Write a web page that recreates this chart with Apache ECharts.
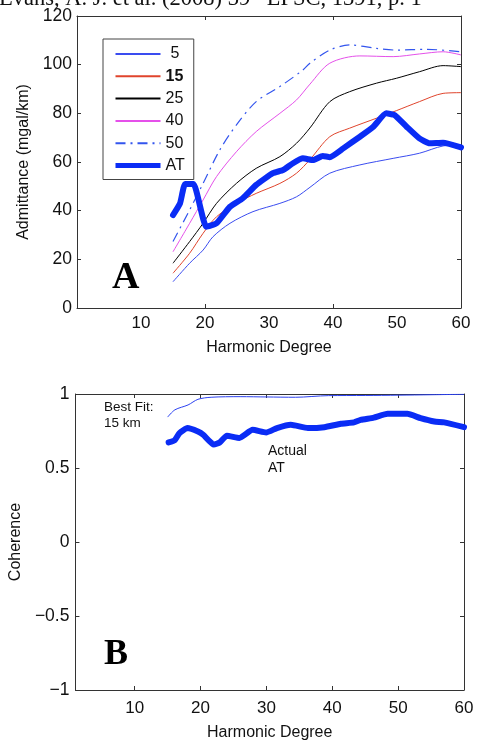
<!DOCTYPE html>
<html><head><meta charset="utf-8">
<script src="https://cdn.jsdelivr.net/npm/echarts@6/dist/echarts.min.js"></script>
<style>html,body{margin:0;padding:0;background:#fff}#c{width:477px;height:742px}</style>
</head><body><div id="c"></div>
<script>
// ---- Panel A: admittance (mgal/km) vs harmonic degree ----
const deg5  = [15,17.6,19.7,21.25,23.9,27.5,31.7,34.3,36.4,39.5,44.2,49.4,53.5,57.2,60];
const val5  = [10.8,18.4,23.8,29.3,34.8,39.6,43,45.7,49.6,55.4,58.8,61.5,63.6,66.6,67];
const deg15 = [15,17.6,19.7,21.8,24.9,28,31.7,34.3,36.4,39.5,42.6,46.8,49.9,53.5,57.2,60];
const val15 = [14.3,22.5,30.7,37.5,43,47.1,51.2,55.4,61,70.4,73.9,78,81.1,84.8,88.2,88.5];
const deg25 = [15,17.6,19.7,21.8,24.9,28,31.7,34.3,36.4,39.5,42.6,46.8,49.9,53.5,57.2,60];
const val25 = [18.4,27.3,34.8,43,51.2,57.4,62.2,67.7,74,84.8,88.9,92.4,94.4,97.1,99.6,99.2];
const deg40 = [15,17.6,19.7,21.8,24.9,28,31.7,34.3,36.4,39.5,44.2,49.4,53.5,57.2,60];
const val40 = [23.1,34.8,44.4,54,64.2,72.5,80,85.5,92,100.6,103.6,103.3,104.4,105.3,104];
const deg50 = [15,17.6,19.7,22.3,24.9,28,31.7,35.3,36.4,39.5,42.6,46.8,49.9,54.6,60];
const val50 = [27.3,40.3,51.2,64.9,75.2,84.8,91,97.8,100.6,106,108.1,106.7,106,106.3,105.3];
const degAT = [15,16.1,16.9,18.2,20.2,21.8,23.9,25.9,28,30.6,32.2,33.75,35.3,36.9,38.4,39.5,41.6,44.2,46.3,48.3,49.6,51.5,53.5,55.1,57.2,60];
const valAT = [38.2,43,51,51,33.4,34.8,41.6,45.1,50.6,55.4,56.7,59.5,61.5,60.8,62.5,62,65.6,70.4,74.5,80,79.3,74.5,69.7,67.7,67.9,66];

// ---- Panel B: coherence vs harmonic degree ----
const degFit = [15,16.1,18.1,19.6,21.6,26,30,34.4,39.4,45,50,55,60];
const valFit = [0.844,0.893,0.926,0.964,0.978,0.982,0.98,0.978,0.989,0.99,0.992,0.995,0.998];
const degCoh = [15.15,16.06,16.8,18,19.6,20.4,22,22.9,24,25.9,27.9,29.95,31.6,33.7,36.3,38.8,41.3,43.3,44.3,46.3,48.4,51.4,53.4,55.5,57,60];
const valCoh = [0.673,0.687,0.736,0.77,0.747,0.725,0.658,0.673,0.718,0.703,0.758,0.74,0.77,0.792,0.77,0.776,0.799,0.808,0.825,0.84,0.866,0.866,0.837,0.814,0.808,0.776];

const xLabelsA = [10,20,30,40,50,60];
const xTicksA  = [20,40];
const yTicksA  = [20,40,60,80,100];
const xLabelsB = [10,20,30,40,50,60];
const xTicksB  = [10,20,30,40,50];
const yTicksB  = [-0.5,0,0.5];

const legendNames = ['5','15','25','40','50','AT'];
const pairs = (xs, ys) => xs.map((x, i) => [x, ys[i]]);

const FONT = 'Liberation Sans, Arial, Helvetica, sans-serif';
const axisTextColor = '#111';
const lineCol = '#333';

function boxAxis(type, gridIndex, pos, min, max, ticks, extra) {
  return Object.assign({
    type: 'value', gridIndex, position: pos, min, max,
    axisLine: {show: true, onZero: false, lineStyle: {color: lineCol, width: 1}},
    axisTick: {show: true, inside: true, length: 4, customValues: ticks, lineStyle: {color: lineCol}},
    axisLabel: {show: false},
    splitLine: {show: false}
  }, extra || {});
}

const chart = echarts.init(document.getElementById('c'), null, {renderer: 'canvas'});
const option = {
  animation: false,
  backgroundColor: '#fff',
  textStyle: {fontFamily: FONT},
  grid: [
    {left: 77, top: 16, width: 384, height: 292},
    {left: 73, top: 394, width: 391, height: 298}
  ],
  xAxis: [
    boxAxis('x', 0, 'bottom', 0, 60, xTicksA, {
      interval: 10,
      name: 'Harmonic Degree', nameLocation: 'middle', nameGap: 32,
      nameTextStyle: {fontSize: 16, color: axisTextColor, fontFamily: FONT, verticalAlign: 'top'},
      axisLabel: {show: true, customValues: xLabelsA, fontSize: 17, color: axisTextColor, margin: 7, fontFamily: FONT}
    }),
    boxAxis('x', 0, 'top', 0, 60, xTicksA, {interval: 10}),
    boxAxis('x', 1, 'bottom', 1, 60, xTicksB, {
      name: 'Harmonic Degree', nameLocation: 'middle', nameGap: 35,
      nameTextStyle: {fontSize: 16, color: axisTextColor, fontFamily: FONT, verticalAlign: 'top'},
      axisLabel: {show: true, customValues: xLabelsB, fontSize: 17, color: axisTextColor, margin: 10, fontFamily: FONT}
    }),
    boxAxis('x', 1, 'top', 1, 60, xTicksB)
  ],
  yAxis: [
    boxAxis('y', 0, 'left', 0, 120, yTicksA, {
      interval: 20,
      name: 'Admittance (mgal/km)', nameLocation: 'middle', nameGap: 38,
      nameTextStyle: {fontSize: 16, color: axisTextColor, fontFamily: FONT},
      axisLabel: {show: true, fontSize: 17.5, color: axisTextColor, margin: 5, fontFamily: FONT}
    }),
    boxAxis('y', 0, 'right', 0, 120, yTicksA, {interval: 20}),
    boxAxis('y', 1, 'left', -1, 1, yTicksB, {
      interval: 0.5,
      name: 'Coherence', nameLocation: 'middle', nameGap: 33,
      nameTextStyle: {fontSize: 16, color: axisTextColor, fontFamily: FONT},
      axisLabel: {show: true, fontSize: 17.5, color: axisTextColor, margin: 6, fontFamily: FONT,
        formatter: v => (v < 0 ? '\u2212' + Math.abs(v) : String(v))}
    }),
    boxAxis('y', 1, 'right', -1, 1, yTicksB, {interval: 0.5})
  ],
  legend: {
    data: legendNames.map(n => n === 'AT' ? {name: n, lineStyle: {width: 5, cap: 'butt'}} : {name: n}),
    orient: 'vertical',
    left: 103, top: 39,
    backgroundColor: '#fff',
    borderColor: '#444', borderWidth: 1, borderRadius: 0,
    padding: [7, 9, 6, 10],
    itemWidth: 45, itemHeight: 13, itemGap: 6.3,
    itemStyle: {opacity: 0},
    selectedMode: false,
    formatter: n => n === '15' ? '{b|15}' : (n === '5' ? '{p|5}' : n),
    textStyle: {fontSize: 16, color: '#111', fontFamily: FONT,
      rich: {b: {fontWeight: 'bold', fontSize: 16, fontFamily: FONT},
             p: {fontSize: 16, padding: [0, 0, 0, 5], fontFamily: FONT}}}
  },
  graphic: [
    {type: 'text', left: -1, top: -13, silent: true,
      style: {text: '{n|Evans, A. J. et al. (2008) 39}{s|th}{n| LPSC, 1391, p. 1}',
        rich: {n: {fontFamily: 'Liberation Serif, Times New Roman, serif', fontSize: 22.5, fill: '#111'},
               s: {fontFamily: 'Liberation Serif, Times New Roman, serif', fontSize: 14, fill: '#111', verticalAlign: 'top', padding: [0,0,10,0]}}}},
    {type: 'text', x: 112, y: 259, silent: true,
      style: {text: 'A', font: 'bold 38px Liberation Serif, Times New Roman, serif', fill: '#000'}},
    {type: 'text', x: 104, y: 637, silent: true,
      style: {text: 'B', font: 'bold 36px Liberation Serif, Times New Roman, serif', fill: '#000'}},
    {type: 'text', x: 104, y: 399, silent: true,
      style: {text: 'Best Fit:\n15 km', font: '13.5px Liberation Sans, Arial, sans-serif', fill: '#111', lineHeight: 16}},
    {type: 'text', x: 268, y: 443, silent: true,
      style: {text: 'Actual\nAT', font: '14px Liberation Sans, Arial, sans-serif', fill: '#111', lineHeight: 17}}
  ],
  series: [
    {name: '5', type: 'line', xAxisIndex: 0, yAxisIndex: 0, data: pairs(deg5, val5), symbol: 'none', smooth: 0.3,
      lineStyle: {color: '#3a4cf0', width: 1}, itemStyle: {color: '#3a4cf0'}},
    {name: '15', type: 'line', xAxisIndex: 0, yAxisIndex: 0, data: pairs(deg15, val15), symbol: 'none', smooth: 0.3,
      lineStyle: {color: '#e0442c', width: 1}, itemStyle: {color: '#e0442c'}},
    {name: '25', type: 'line', xAxisIndex: 0, yAxisIndex: 0, data: pairs(deg25, val25), symbol: 'none', smooth: 0.3,
      lineStyle: {color: '#000', width: 1}, itemStyle: {color: '#000'}},
    {name: '40', type: 'line', xAxisIndex: 0, yAxisIndex: 0, data: pairs(deg40, val40), symbol: 'none', smooth: 0.3,
      lineStyle: {color: '#e550ea', width: 1}, itemStyle: {color: '#e550ea'}},
    {name: '50', type: 'line', xAxisIndex: 0, yAxisIndex: 0, data: pairs(deg50, val50), symbol: 'none', smooth: 0.3,
      lineStyle: {color: '#3355ee', width: 1.2, type: [10, 5, 2, 5]}, itemStyle: {color: '#3355ee'}},
    {name: 'AT', type: 'line', xAxisIndex: 0, yAxisIndex: 0, data: pairs(degAT, valAT), symbol: 'none', smooth: 0.15,
      lineStyle: {color: '#0a2cf5', width: 6, join: 'round', cap: 'round'}, itemStyle: {color: '#0a2cf5'}},
    {name: 'Best Fit 15 km', type: 'line', xAxisIndex: 2, yAxisIndex: 2, data: pairs(degFit, valFit), symbol: 'none', smooth: 0.3,
      lineStyle: {color: '#2a40f0', width: 1}},
    {name: 'Actual AT', type: 'line', xAxisIndex: 2, yAxisIndex: 2, data: pairs(degCoh, valCoh), symbol: 'none', smooth: 0.15,
      lineStyle: {color: '#0a2cf5', width: 6, join: 'round', cap: 'round'}}
  ]
};
chart.setOption(option);
</script></body></html>
